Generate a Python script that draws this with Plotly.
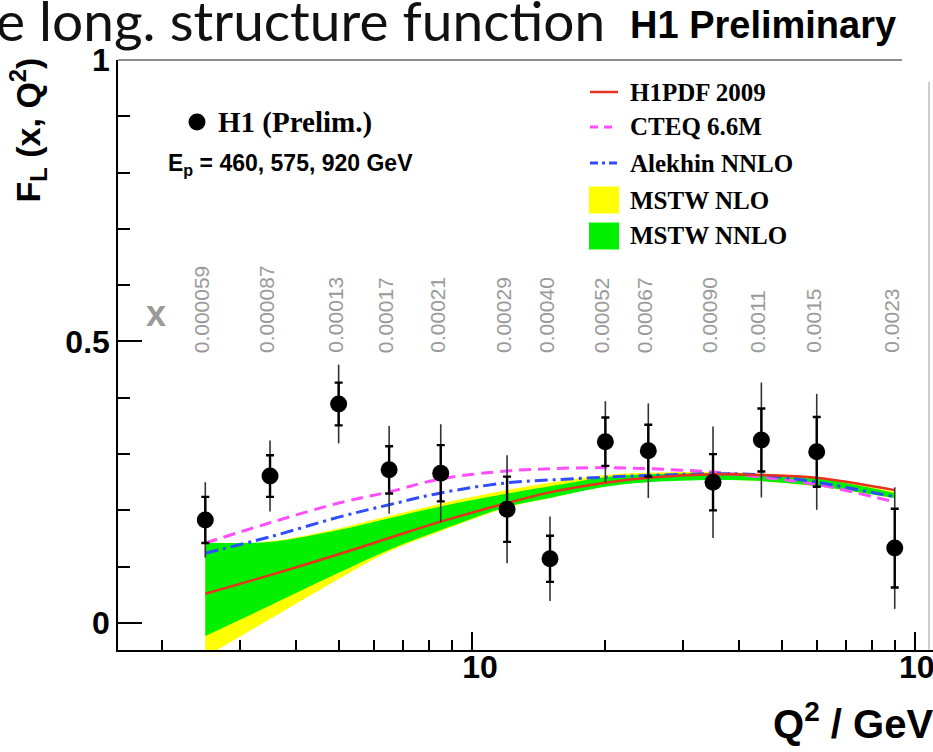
import math
import plotly.graph_objects as go

# ---- H1 preliminary F_L measurement ----
q2 = [2.5, 3.5, 5, 6.5, 8.5, 12, 15, 20, 25, 35, 45, 60, 90]
fl = [0.183, 0.261, 0.389, 0.272, 0.266, 0.202, 0.114, 0.322, 0.306, 0.250, 0.325, 0.304, 0.133]
fl_stat = [0.041, 0.037, 0.038, 0.042, 0.050, 0.058, 0.041, 0.043, 0.046, 0.050, 0.056, 0.062, 0.070]
fl_tot = [0.067, 0.063, 0.070, 0.078, 0.087, 0.096, 0.075, 0.072, 0.084, 0.099, 0.102, 0.103, 0.108]
x_bj = ["0.000059", "0.000087", "0.00013", "0.00017", "0.00021", "0.00029", "0.00040",
        "0.00052", "0.00067", "0.00090", "0.0011", "0.0015", "0.0023"]

# ---- theory predictions on the same Q^2 grid ----
h1pdf = [0.052, 0.085, 0.122, 0.151, 0.180, 0.213, 0.232, 0.249, 0.258, 0.264, 0.263, 0.258, 0.236]
cteq = [0.142, 0.178, 0.213, 0.233, 0.256, 0.270, 0.274, 0.276, 0.274, 0.268, 0.259, 0.246, 0.215]
alekhin = [0.124, 0.153, 0.188, 0.210, 0.231, 0.249, 0.254, 0.259, 0.262, 0.265, 0.263, 0.250, 0.224]
mstw_nnlo_hi = [0.143, 0.144, 0.165, 0.186, 0.207, 0.230, 0.243, 0.259, 0.264, 0.266, 0.264, 0.257, 0.231]
mstw_nnlo_lo = [-0.023, 0.031, 0.089, 0.130, 0.165, 0.206, 0.222, 0.242, 0.250, 0.254, 0.252, 0.243, 0.222]
mstw_nlo_hi = [0.138, 0.145, 0.168, 0.190, 0.212, 0.236, 0.249, 0.263, 0.267, 0.268, 0.265, 0.258, 0.233]
mstw_nlo_lo = [-0.060, 0.007, 0.078, 0.127, 0.163, 0.205, 0.222, 0.243, 0.251, 0.255, 0.252, 0.243, 0.222]

legend_names = ["H1PDF 2009", "CTEQ 6.6M", "Alekhin NNLO", "MSTW NLO", "MSTW NNLO"]

W, H = 933, 752
L, R, T, B = 118, 0, 60, 102
PW, PH = W - L - R, H - T - B


def px(xp):
    return (xp - L) / PW


def py(yp):
    return (H - B - yp) / PH


HELV = "Liberation Sans, Arial, sans-serif"
TIMES = "Liberation Serif, Times New Roman, serif"

fig = go.Figure()

# MSTW NLO band (yellow) underneath
fig.add_trace(go.Scatter(x=q2, y=mstw_nlo_lo, mode="lines", line=dict(width=0, shape="spline"),
                         hoverinfo="skip"))
fig.add_trace(go.Scatter(x=q2, y=mstw_nlo_hi, mode="lines", fill="tonexty", fillcolor="#ffff00",
                         line=dict(width=0, shape="spline"), name=legend_names[3]))
# MSTW NNLO band (green)
fig.add_trace(go.Scatter(x=q2, y=mstw_nnlo_lo, mode="lines", line=dict(width=0, shape="spline"),
                         hoverinfo="skip"))
fig.add_trace(go.Scatter(x=q2, y=mstw_nnlo_hi, mode="lines", fill="tonexty", fillcolor="#00f000",
                         line=dict(width=0, shape="spline"), name=legend_names[4]))

fig.add_trace(go.Scatter(x=q2, y=cteq, mode="lines", name=legend_names[1],
                         line=dict(color="#ff4dff", width=3, dash="12px,7px", shape="spline")))
fig.add_trace(go.Scatter(x=q2, y=alekhin, mode="lines", name=legend_names[2],
                         line=dict(color="#2f4dff", width=3, dash="13px,5px,3px,5px", shape="spline")))
fig.add_trace(go.Scatter(x=q2, y=h1pdf, mode="lines", name=legend_names[0],
                         line=dict(color="#e8321e", width=2.5, shape="spline")))

# data: total uncertainty (thin) and statistical uncertainty (thick, with caps)
fig.add_trace(go.Scatter(x=q2, y=fl, mode="markers", marker=dict(size=1, color="rgba(0,0,0,0)"),
                         error_y=dict(type="data", array=fl_tot, visible=True, color="#333333",
                                      thickness=1.6, width=0)))
fig.add_trace(go.Scatter(x=q2, y=fl, mode="markers", name="H1 (Prelim.)",
                         marker=dict(size=17, color="black"),
                         error_y=dict(type="data", array=fl_stat, visible=True, color="black",
                                      thickness=2.4, width=4)))

annotations = []
shapes = []

# Bjorken-x of each point, written vertically above it (log axis: positions in log10)
for q, xb in zip(q2, x_bj):
    annotations.append(dict(x=math.log10(q), y=0.476, xref="x", yref="y", text=xb, showarrow=False,
                            textangle=-90, xanchor="center", yanchor="bottom", xshift=-4,
                            font=dict(family=HELV, size=21, color="#9a9a9a")))
annotations.append(dict(x=px(156), y=py(313), xref="paper", yref="paper", text="<b>x</b>",
                        xanchor="center", yanchor="middle",
                        showarrow=False, font=dict(family=HELV, size=36, color="#9a9a9a")))

# in-frame labels
shapes.append(dict(type="circle", xref="paper", yref="paper", fillcolor="black", line=dict(width=0),
                   x0=px(188.5), x1=px(205.5), y0=py(130.5), y1=py(113.5)))
annotations.append(dict(x=px(216), y=py(122), xref="paper", yref="paper", xanchor="left",
                        yanchor="middle", text="<b>H1 (Prelim.)</b>", showarrow=False,
                        font=dict(family=TIMES, size=29, color="black")))
annotations.append(dict(x=px(166), y=py(164), xref="paper", yref="paper", xanchor="left",
                        yanchor="middle", text="<b>E<sub>p</sub> = 460, 575, 920 GeV</b>",
                        showarrow=False, font=dict(family=HELV, size=23, color="black")))

# legend block
row_y = [92, 127, 163, 200, 236]
line_styles = [("#e8321e", "solid", 2.5), ("#ff4dff", "8px,6px", 3), ("#2f4dff", "8px,4px,3px,4px", 3)]
for i, (c, d, w) in enumerate(line_styles):
    shapes.append(dict(type="line", xref="paper", yref="paper", x0=px(590), x1=px(618),
                       y0=py(row_y[i]), y1=py(row_y[i]), line=dict(color=c, dash=d, width=w)))
for i, c in zip([3, 4], ["#ffff00", "#00f000"]):
    shapes.append(dict(type="rect", xref="paper", yref="paper", x0=px(589), x1=px(619),
                       y0=py(row_y[i] - 13.5), y1=py(row_y[i] + 13.5), fillcolor=c, line=dict(width=0)))
for i, name in enumerate(legend_names):
    annotations.append(dict(x=px(628), y=py(row_y[i]), xref="paper", yref="paper", xanchor="left",
                            yanchor="middle", text="<b>%s</b>" % name, showarrow=False,
                            font=dict(family=TIMES, size=25, color="black")))

# frame top edge and right edge
shapes.append(dict(type="line", xref="paper", yref="paper", x0=0, x1=px(902), y0=1, y1=1,
                   line=dict(color="#8c8c8c", width=2)))
shapes.append(dict(type="line", xref="paper", yref="paper", x0=px(929), x1=px(929), y0=py(650), y1=py(82),
                   line=dict(color="#bdbdbd", width=1.5)))

# axis titles and header
annotations.append(dict(x=px(27), y=py(56), xref="paper", yref="paper", xanchor="center", yanchor="top",
                        text="<b>F<sub>L</sub> (x, Q<sup>2</sup>)</b>", textangle=-90, showarrow=False,
                        font=dict(family=HELV, size=34, color="black")))
annotations.append(dict(x=px(771), y=py(721), xref="paper", yref="paper", xanchor="left",
                        yanchor="middle", text="<b>Q<sup>2</sup> / GeV<sup>2</sup></b>", showarrow=False,
                        font=dict(family=HELV, size=40, color="black")))
annotations.append(dict(x=px(628), y=py(25), xref="paper", yref="paper", xanchor="left",
                        yanchor="middle", text="<b>H1 Preliminary</b>", showarrow=False,
                        font=dict(family=HELV, size=38, color="black")))
annotations.append(dict(x=px(-6), y=py(20), xref="paper", yref="paper", xanchor="left",
                        yanchor="middle", text="e long. structure function", showarrow=False,
                        font=dict(family="Lato, Open Sans, sans-serif", size=55, color="#111111")))

fig.update_layout(
    width=W, height=H, margin=dict(l=L, r=R, t=T, b=B, autoexpand=False),
    plot_bgcolor="white", paper_bgcolor="white", showlegend=False,
    annotations=annotations, shapes=shapes,
)
fig.update_xaxes(
    type="log", range=[0.2009, 2.0406], showgrid=False, zeroline=False, automargin=False,
    showline=True, linecolor="black", linewidth=2,
    ticks="inside", ticklen=18, tickwidth=2, tickcolor="black",
    tickvals=[10, 100], ticktext=["<b>10</b>", "<b>10<sup>2</sup></b>"],
    tickfont=dict(family=HELV, size=32, color="black"), ticklabelshift=8,
    ticklabelstandoff=-12, ticklabeloverflow="allow",
    minor=dict(tickvals=[2, 3, 4, 5, 6, 7, 8, 9, 20, 30, 40, 50, 60, 70, 80, 90],
               ticks="inside", ticklen=10, tickwidth=2, tickcolor="black", showgrid=False),
)
fig.update_yaxes(
    range=[-0.048, 1.0], showgrid=False, zeroline=False, automargin=False,
    showline=True, linecolor="black", linewidth=1.5,
    ticks="inside", ticklen=24, tickwidth=1.5, tickcolor="black",
    tickvals=[0, 0.5, 1], ticktext=["<b>0</b>", "<b>0.5</b>", "<b>1</b>"],
    tickfont=dict(family=HELV, size=32, color="black"),
    minor=dict(dtick=0.1, tick0=0, ticks="inside", ticklen=12, tickwidth=1.5, tickcolor="black",
               showgrid=False),
)

fig.write_html("out.html")
